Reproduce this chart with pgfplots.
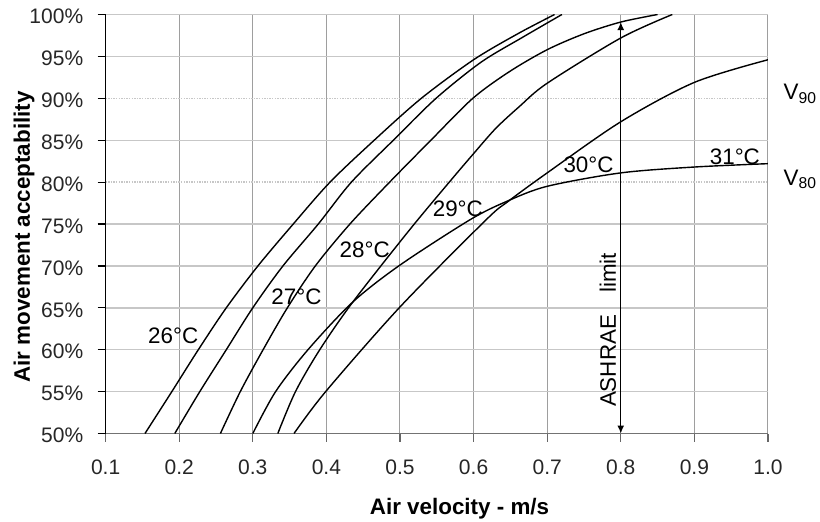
\documentclass[border=0pt]{standalone}
\usepackage{fontspec}
\setmainfont{Liberation Sans}
\usepackage{pgfplots}
\pgfplotsset{compat=1.18}
\usetikzlibrary{arrows.meta}

\newcommand\tickfont{\fontsize{10.5bp}{12bp}\selectfont}
\newcommand\labfont{\fontsize{11.2bp}{13bp}\selectfont\bfseries}
\newcommand\curvefont{\fontsize{11.2bp}{13bp}\selectfont}

\begin{document}
\begin{tikzpicture}
\begin{axis}[
  scale only axis, width=331.2bp, height=209.5bp,
  xmin=0.1, xmax=1.0, ymin=50, ymax=100,
  axis x line*=bottom, axis y line*=left,
  x axis line style={black!55, line width=0.6bp},
  y axis line style={black, line width=0.6bp},
  tick align=outside, major tick length=4bp,
  x tick style={black!60, line width=0.6bp},
  y tick style={black, line width=0.6bp},
  xtick={0.1,0.2,0.3,0.4,0.5,0.6,0.7,0.8,0.9,1.0},
  xticklabels={0.1,0.2,0.3,0.4,0.5,0.6,0.7,0.8,0.9,1.0},
  ytick={50,55,60,65,70,75,85,95,100},
  yticklabels={50\%,55\%,60\%,65\%,70\%,75\%,85\%,95\%,100\%},
  extra y ticks={80,90},
  extra y tick labels={80\%,90\%},
  extra y tick style={major grid style={black!35, line width=0.6bp, dash pattern=on 0.7bp off 0.6bp}},
  grid=major,
  x grid style={black!38, line width=0.5bp},
  y grid style={black!22, line width=0.7bp},
  /pgf/number format/assume math mode=true,
  ticklabel style={font=\tickfont, text=black!85},
  xticklabel style={anchor=north, inner sep=0pt, yshift=-9bp},
  yticklabel style={anchor=east, inner sep=0pt, xshift=-7bp, yshift=-1bp},
  xlabel={Air velocity - m/s},
  ylabel={Air movement acceptability},
  xlabel style={font=\labfont, at={(axis description cs:0.5,0)}, anchor=center, xshift=11.35bp, yshift=-37.5bp},
  ylabel style={font=\labfont, at={(axis description cs:0,0.469)}, anchor=center, yshift=40.8bp},
  clip mode=individual,
  curve/.style={black, no markers, solid, line width=0.7bp, smooth, tension=0.5},
]
% 26 C
\addplot[curve] coordinates {(0.1535,50) (0.190,55) (0.226,60) (0.264,65) (0.307,70) (0.355,75) (0.405,80) (0.465,85) (0.529,90) (0.600,94.6) (0.660,97.7) (0.71,100)};
% 27 C
\addplot[curve] coordinates {(0.194,50) (0.228,55) (0.264,60) (0.300,65) (0.341,70) (0.389,75) (0.434,80) (0.491,85) (0.549,90) (0.610,94.3) (0.665,97.2) (0.72,100)};
% 28 C
\addplot[curve] coordinates {(0.256,50) (0.283,55) (0.314,60) (0.347,65) (0.385,70) (0.432,75) (0.486,80) (0.542,85) (0.599,90) (0.649,93.2) (0.70,95.8) (0.75,97.7) (0.8,99.1) (0.85,100)};
% 29 C
\addplot[curve] coordinates {(0.334,50) (0.358,55) (0.391,60) (0.436,65.7) (0.513,74.3) (0.567,80) (0.600,83.4) (0.630,86.4) (0.662,89.0) (0.7,91.8) (0.8,97.2) (0.87,100)};
% 30 C
\addplot[curve] coordinates {(0.356,50) (0.399,55) (0.5,65.1) (0.617,75.5) (0.647,77.7) (0.7,81.1) (0.8,87.2) (0.9,91.9) (1.0,94.6)};
% 31 C
\addplot[curve] coordinates {(0.300,50) (0.331,55) (0.375,60) (0.436,65.7) (0.5,70.1) (0.595,75.5) (0.645,77.7) (0.7,79.5) (0.8,81.1) (0.9,81.8) (1.0,82.2)};
% ASHRAE limit arrow
\addplot[black, no markers, solid, line width=0.7bp, sharp plot, {Latex[length=4bp,width=3.5bp]}-{Latex[length=4bp,width=3.5bp]}] coordinates {(0.8,50) (0.8,99.1)};

\node[font=\curvefont] at (axis cs:0.1919,61.72) {26°C};
\node[font=\curvefont] at (axis cs:0.3593,66.32) {27°C};
\node[font=\curvefont] at (axis cs:0.452,71.9) {28°C};
\node[font=\curvefont] at (axis cs:0.5786,76.87) {29°C};
\node[font=\curvefont] at (axis cs:0.7562,82.04) {30°C};
\node[font=\curvefont] at (axis cs:0.955,83.03) {31°C};
\node[font=\curvefont, rotate=90] at (axis cs:0.7824,62.35) {ASHRAE\hspace{11bp}limit};
\node[font=\curvefont, anchor=base west, inner sep=0pt, xshift=7.65bp] at (axis cs:1.0,89.8) {V\textsubscript{90}};
\node[font=\curvefont, anchor=base west, inner sep=0pt, xshift=7.65bp] at (axis cs:1.0,79.65) {V\textsubscript{80}};
\end{axis}
\pgfresetboundingbox
\path (-52.8bp,-44.25bp) rectangle (357.2bp,216.75bp);
\end{tikzpicture}
\end{document}
